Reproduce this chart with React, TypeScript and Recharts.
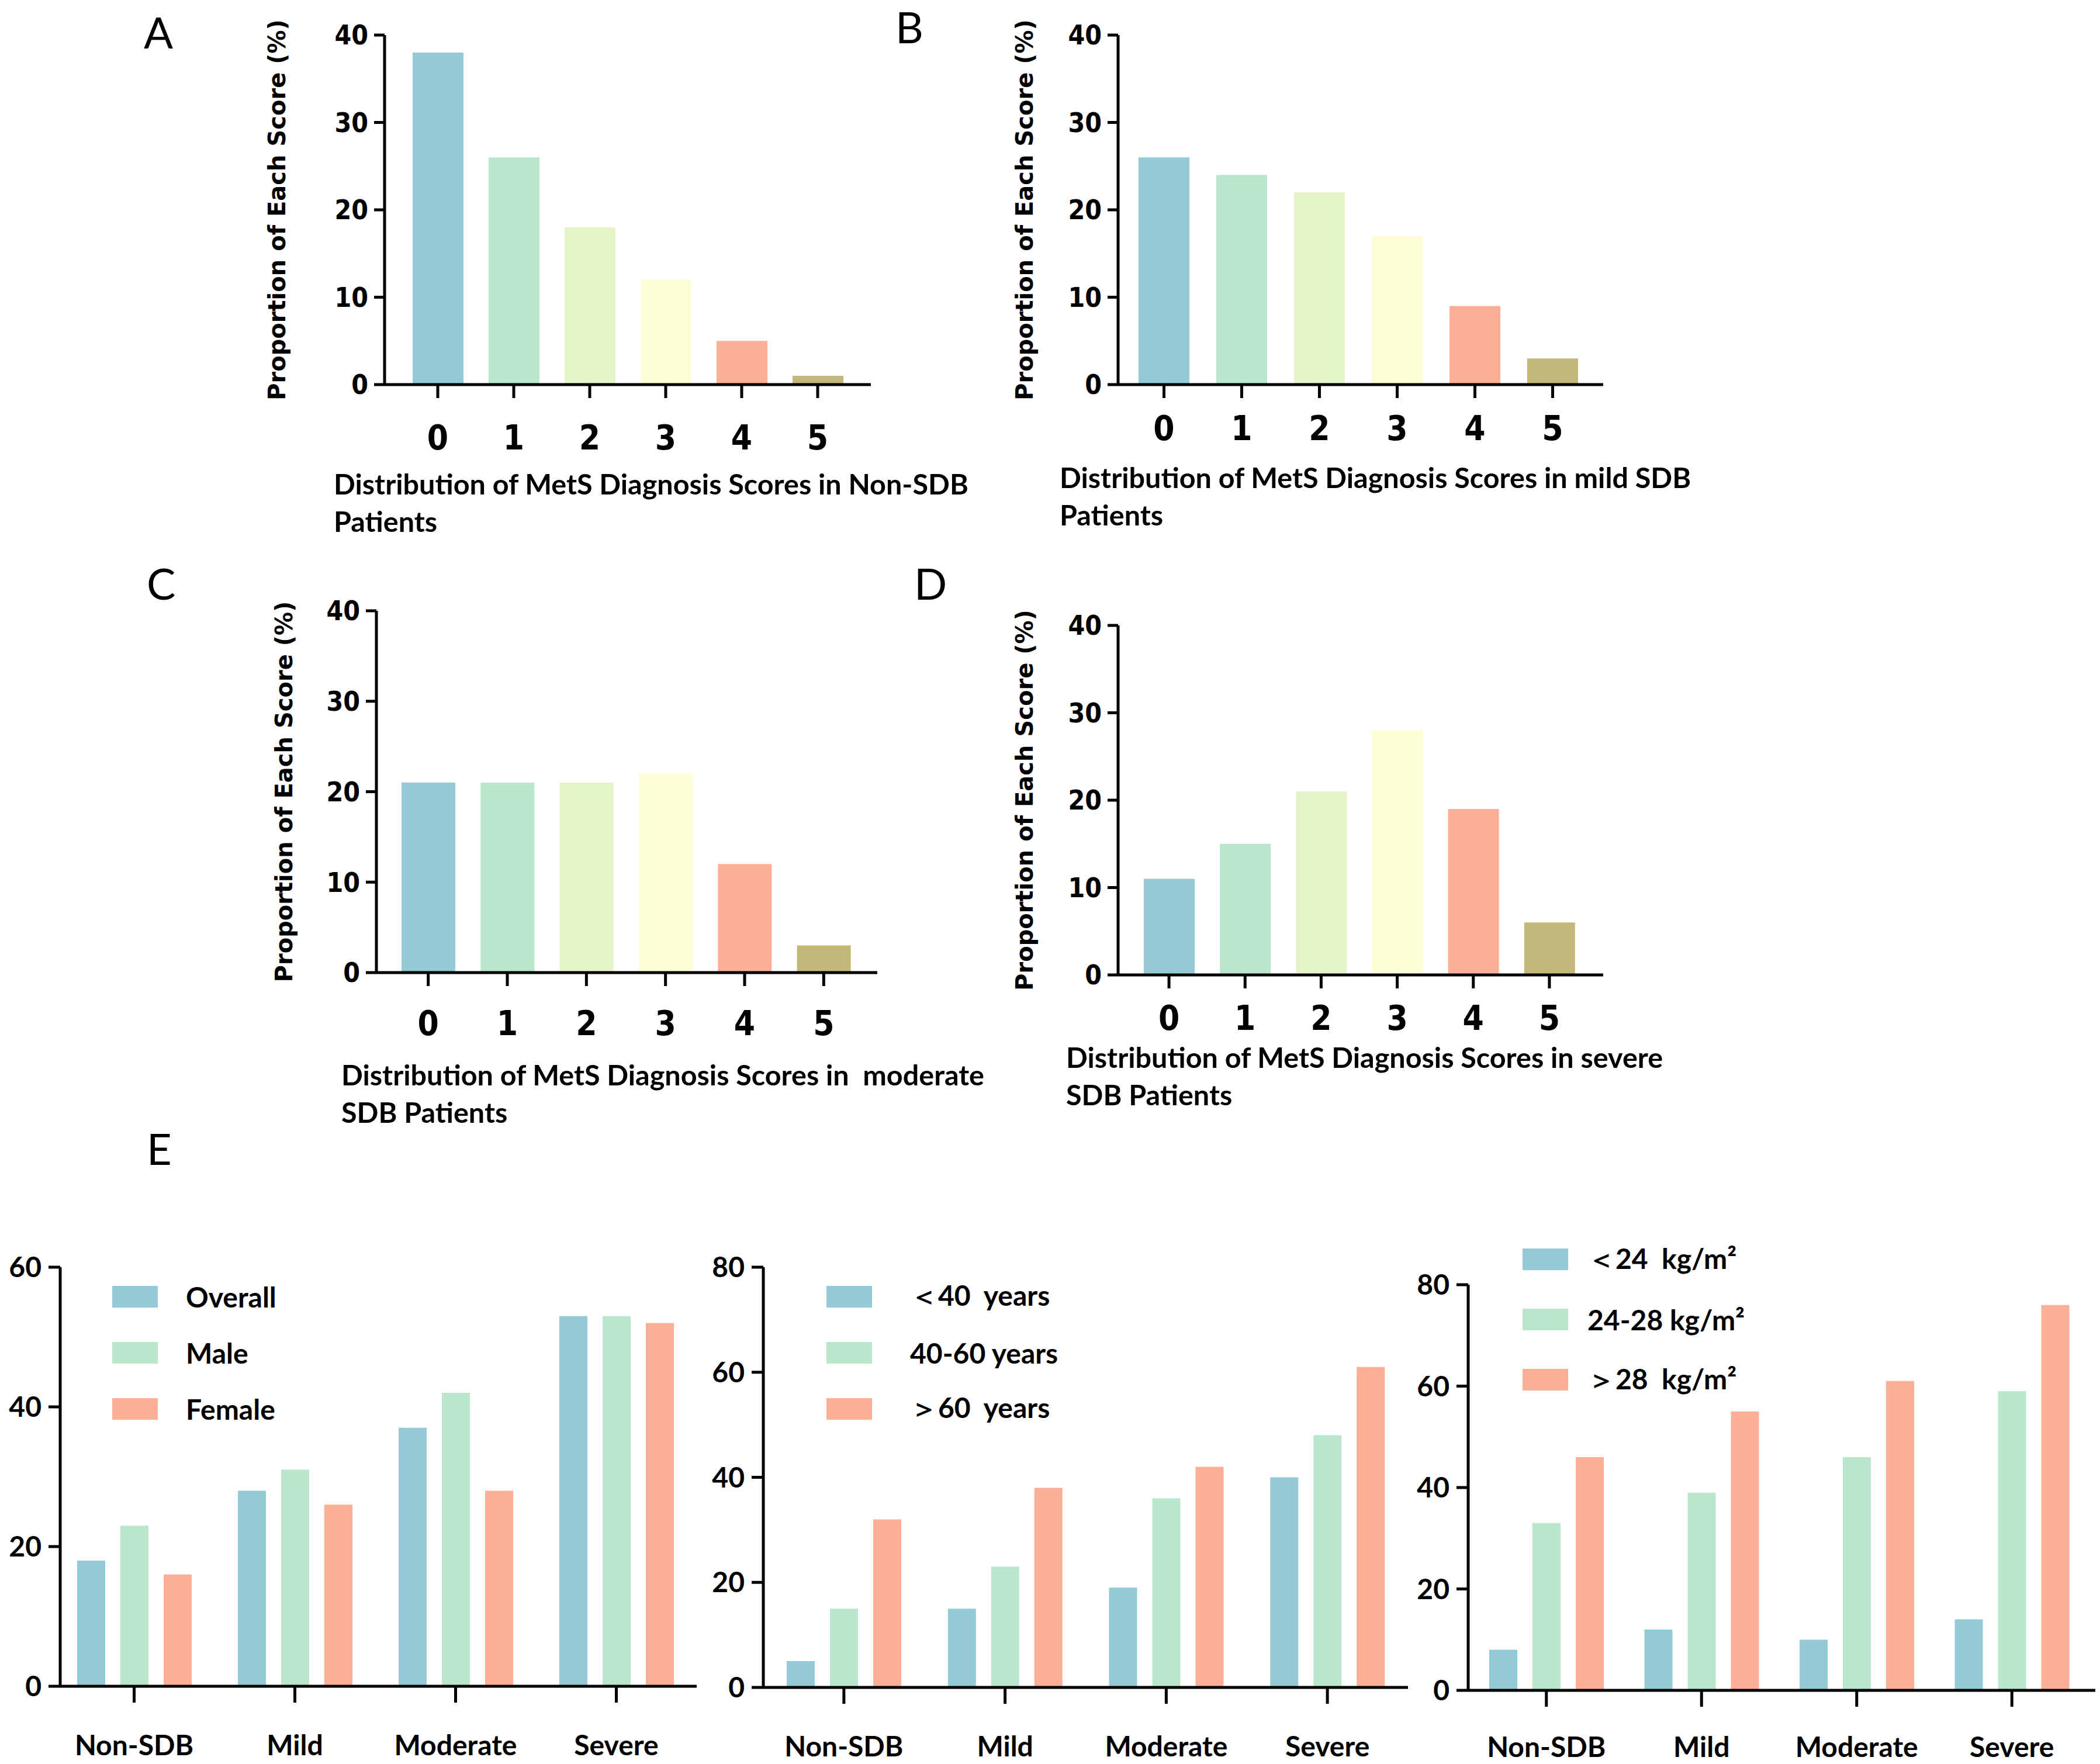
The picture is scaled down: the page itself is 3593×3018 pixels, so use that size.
import { BarChart, Bar, XAxis, YAxis, Cell, Legend } from 'recharts';

// score panels (A-D)
const SCORES = ['0', '1', '2', '3', '4', '5'];
const SCORE_COLORS = ['#94cad5', '#bae6cb', '#e4f4c8', '#fefed6', '#fcaf94', '#c3b87a'];
const NON_SDB_PCT = [38, 26, 18, 12, 5, 1];
const MILD_PCT = [26, 24, 22, 17, 9, 3];
const MODERATE_PCT = [21, 21, 21, 22, 12, 3];
const SEVERE_PCT = [11, 15, 21, 28, 19, 6];

// panel E
const SEVERITY = ['Non-SDB', 'Mild', 'Moderate', 'Severe'];
const OVERALL = [18, 28, 37, 53];
const MALE = [23, 31, 42, 53];
const FEMALE = [16, 26, 28, 52];
const AGE_UNDER_40 = [5, 15, 19, 40];
const AGE_40_60 = [15, 23, 36, 48];
const AGE_OVER_60 = [32, 38, 42, 61];
const BMI_UNDER_24 = [8, 12, 10, 14];
const BMI_24_28 = [33, 39, 46, 59];
const BMI_OVER_28 = [46, 55, 61, 76];

const BLUE = '#94cad5';
const GREEN = '#bae6cb';
const SALMON = '#fcaf94';

const NARROW = '"Liberation Sans Narrow", "DejaVu Sans Condensed", sans-serif';
const BODY = 'Lato, "Open Sans", sans-serif';
const WIDE = '"DejaVu Sans", Verdana, sans-serif';

const AXIS = { stroke: '#000', strokeWidth: 5 };

interface ScorePanelProps {
    values: number[];
    yAxisX: number;
    plotTop: number;
    plotBottom: number;
    plotRight: number;
    padLeft: number;
    padRight: number;
    barSize: number;
    tickMargin: number;
    labelX: number;
}

function ScorePanel(p: ScorePanelProps) {
    const yAxisWidth = 260;
    const marginTop = 40;
    const marginRight = 20;
    const xAxisHeight = 140;
    const left = p.yAxisX - yAxisWidth;
    const top = p.plotTop - marginTop;
    const width = p.plotRight + marginRight - left;
    const height = marginTop + (p.plotBottom - p.plotTop) + xAxisHeight;
    const data = SCORES.map((s, i) => ({ score: s, pct: p.values[i] }));

    return (
        <div style={{ position: 'absolute', left, top }}>
            <BarChart
                width={width}
                height={height}
                data={data}
                barSize={p.barSize}
                margin={{ top: marginTop, right: marginRight, left: 0, bottom: 0 }}
            >
                <XAxis
                    dataKey="score"
                    interval={0}
                    height={xAxisHeight}
                    padding={{ left: p.padLeft, right: p.padRight }}
                    axisLine={AXIS}
                    tickLine={AXIS}
                    tickSize={23}
                    tickMargin={p.tickMargin}
                    tick={{ fill: '#000', fontSize: 58, fontWeight: 700, fontFamily: NARROW }}
                />
                <YAxis
                    domain={[0, 40]}
                    ticks={[0, 10, 20, 30, 40]}
                    width={yAxisWidth}
                    axisLine={AXIS}
                    tickLine={AXIS}
                    tickSize={18}
                    tickMargin={10}
                    tick={{ fill: '#000', fontSize: 46, fontWeight: 700, fontFamily: NARROW }}
                    label={{
                        value: 'Proportion of Each Score (%)',
                        angle: -90,
                        position: 'insideLeft',
                        offset: p.labelX - left,
                        fill: '#000',
                        fontSize: 40,
                        fontWeight: 700,
                        fontFamily: WIDE,
                        style: { textAnchor: 'middle' },
                    }}
                />
                <Bar dataKey="pct" isAnimationActive={false}>
                    {data.map((d, i) => (
                        <Cell key={d.score} fill={SCORE_COLORS[i]} />
                    ))}
                </Bar>
            </BarChart>
        </div>
    );
}

interface Series {
    key: string;
    name: string;
    values: number[];
    color: string;
}

interface GroupPanelProps {
    series: Series[];
    yMax: number;
    yAxisX: number;
    plotTop: number;
    plotBottom: number;
    plotRight: number;
    padLeft: number;
    padRight: number;
    marginTop: number;
    legendLeft: number;
    legendTop: number;
    rowHeight: number;
    textGap: number;
    tickMargin: number;
}

function GroupPanel(p: GroupPanelProps) {
    const yAxisWidth = 103;
    const marginRight = 8;
    const left = p.yAxisX - yAxisWidth;
    const top = p.plotTop - p.marginTop;
    const width = p.plotRight + marginRight - left;
    // keep the svg inside the page
    const xAxisHeight = 3016 - p.plotBottom;
    const height = p.marginTop + (p.plotBottom - p.plotTop) + xAxisHeight;
    const data = SEVERITY.map((c, i) => {
        const row: { [key: string]: string | number } = { group: c };
        p.series.forEach((s) => {
            row[s.key] = s.values[i];
        });
        return row;
    });
    const ticks = [0, 20, 40, 60, 80].filter((t) => t <= p.yMax);

    return (
        <div style={{ position: 'absolute', left, top }}>
            <BarChart
                width={width}
                height={height}
                data={data}
                barSize={48}
                barGap={26}
                margin={{ top: p.marginTop, right: marginRight, left: 0, bottom: 0 }}
            >
                <XAxis
                    dataKey="group"
                    interval={0}
                    height={xAxisHeight}
                    padding={{ left: p.padLeft, right: p.padRight }}
                    axisLine={AXIS}
                    tickLine={AXIS}
                    tickSize={28}
                    tickMargin={p.tickMargin}
                    tick={{ fill: '#000', fontSize: 48, fontWeight: 700, fontFamily: BODY }}
                />
                <YAxis
                    domain={[0, p.yMax]}
                    ticks={ticks}
                    width={yAxisWidth}
                    axisLine={AXIS}
                    tickLine={AXIS}
                    tickSize={20}
                    tickMargin={12}
                    tick={{ fill: '#000', fontSize: 48, fontWeight: 700, fontFamily: BODY }}
                />
                <Legend
                    layout="vertical"
                    align="center"
                    verticalAlign="middle"
                    wrapperStyle={{ left: p.legendLeft, top: p.legendTop, width: 700 }}
                    content={() => (
                        <div>
                            {p.series.map((s) => (
                                <div
                                    key={s.key}
                                    style={{ display: 'flex', alignItems: 'center', height: p.rowHeight }}
                                >
                                    <div style={{ width: 78, height: 37, background: s.color }} />
                                    <span
                                        style={{
                                            marginLeft: p.textGap,
                                            fontFamily: BODY,
                                            fontWeight: 700,
                                            fontSize: 48,
                                            color: '#000',
                                            whiteSpace: 'pre',
                                        }}
                                    >
                                        {s.name}
                                    </span>
                                </div>
                            ))}
                        </div>
                    )}
                />
                {p.series.map((s) => (
                    <Bar key={s.key} dataKey={s.key} name={s.name} fill={s.color} isAnimationActive={false} />
                ))}
            </BarChart>
        </div>
    );
}

const letterStyle = (left: number, top: number): React.CSSProperties => ({
    position: 'absolute',
    left,
    top,
    fontFamily: BODY,
    fontSize: 74,
    lineHeight: 1,
    color: '#000',
});

const titleStyle = (left: number, center: number): React.CSSProperties => ({
    position: 'absolute',
    left,
    top: center - 32,
    fontFamily: BODY,
    fontSize: 48.5,
    fontWeight: 700,
    lineHeight: '64px',
    color: '#000',
    whiteSpace: 'pre',
});

export default function App() {
    return (
        <div
            style={{
                position: 'absolute',
                left: 0,
                top: 0,
                width: 3593,
                height: 3018,
                background: '#fff',
                overflow: 'hidden',
            }}
        >
            <div style={letterStyle(246, 18)}>A</div>
            <div style={letterStyle(1532, 9)}>B</div>
            <div style={letterStyle(251, 961)}>C</div>
            <div style={letterStyle(1564, 961)}>D</div>
            <div style={letterStyle(251, 1928)}>E</div>

            <ScorePanel
                values={NON_SDB_PCT}
                yAxisX={658}
                plotTop={60}
                plotBottom={658}
                plotRight={1490}
                padLeft={26}
                padRight={26}
                barSize={87}
                tickMargin={47}
                labelX={474}
            />
            <div style={titleStyle(571, 827)}>
                {'Distribution of MetS Diagnosis Scores in Non-SDB\nPatients'}
            </div>

            <ScorePanel
                values={MILD_PCT}
                yAxisX={1913}
                plotTop={60}
                plotBottom={658}
                plotRight={2743}
                padLeft={12}
                padRight={20}
                barSize={87}
                tickMargin={31}
                labelX={1753}
            />
            <div style={titleStyle(1813, 816)}>
                {'Distribution of MetS Diagnosis Scores in mild SDB\nPatients'}
            </div>

            <ScorePanel
                values={MODERATE_PCT}
                yAxisX={644}
                plotTop={1045}
                plotBottom={1664}
                plotRight={1501}
                padLeft={21}
                padRight={24}
                barSize={92}
                tickMargin={43}
                labelX={486}
            />
            <div style={titleStyle(584, 1838)}>
                {'Distribution of MetS Diagnosis Scores in  moderate\nSDB Patients'}
            </div>

            <ScorePanel
                values={SEVERE_PCT}
                yAxisX={1913}
                plotTop={1070}
                plotBottom={1668}
                plotRight={2743}
                padLeft={22}
                padRight={27}
                barSize={87}
                tickMargin={30}
                labelX={1753}
            />
            <div style={titleStyle(1824, 1808)}>
                {'Distribution of MetS Diagnosis Scores in severe\nSDB Patients'}
            </div>

            <GroupPanel
                series={[
                    { key: 'overall', name: 'Overall', values: OVERALL, color: BLUE },
                    { key: 'male', name: 'Male', values: MALE, color: GREEN },
                    { key: 'female', name: 'Female', values: FEMALE, color: SALMON },
                ]}
                yMax={60}
                yAxisX={103}
                plotTop={2168}
                plotBottom={2885}
                plotRight={1192}
                padLeft={-11}
                padRight={0}
                marginTop={40}
                legendLeft={192}
                legendTop={42}
                rowHeight={96}
                textGap={48}
                tickMargin={56}
            />
            <GroupPanel
                series={[
                    { key: 'under40', name: '＜40  years', values: AGE_UNDER_40, color: BLUE },
                    { key: 'age4060', name: '40-60 years', values: AGE_40_60, color: GREEN },
                    { key: 'over60', name: '＞60  years', values: AGE_OVER_60, color: SALMON },
                ]}
                yMax={80}
                yAxisX={1306}
                plotTop={2168}
                plotBottom={2887}
                plotRight={2409}
                padLeft={0}
                padRight={0}
                marginTop={40}
                legendLeft={211}
                legendTop={42}
                rowHeight={96}
                textGap={65}
                tickMargin={56}
            />
            <GroupPanel
                series={[
                    { key: 'bmiLow', name: '＜24  kg/m²', values: BMI_UNDER_24, color: BLUE },
                    { key: 'bmiMid', name: '24-28 kg/m²', values: BMI_24_28, color: GREEN },
                    { key: 'bmiHigh', name: '＞28  kg/m²', values: BMI_OVER_28, color: SALMON },
                ]}
                yMax={80}
                yAxisX={2512}
                plotTop={2198}
                plotBottom={2892}
                plotRight={3585}
                padLeft={1}
                padRight={10}
                marginTop={120}
                legendLeft={196}
                legendTop={25}
                rowHeight={103}
                textGap={33}
                tickMargin={52}
            />
        </div>
    );
}
